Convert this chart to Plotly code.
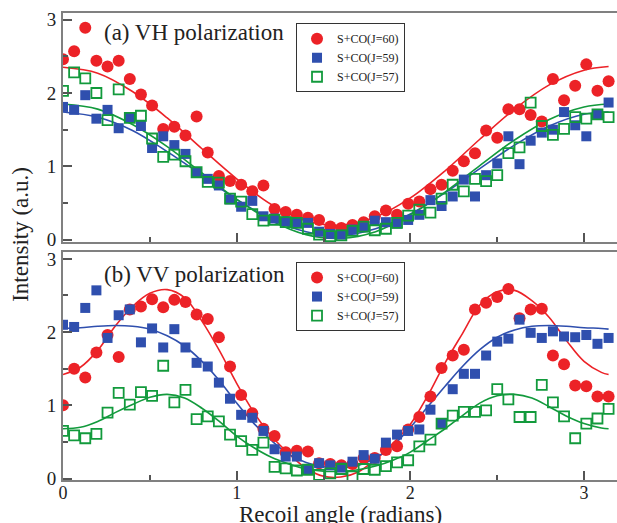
import numpy as np
import plotly.graph_objects as go

# ---------------- data ----------------
angle = np.linspace(0, np.pi, 50)  # recoil angle grid (radians)

vh_j60 = [2.46, 2.57, 2.89, 2.44, 2.36, 2.44, 2.19, 1.98, 1.83, 1.51,
          1.54, 1.42, 1.68, 1.19, 0.87, 0.80, 0.75, 0.66, 0.74, 0.42,
          0.38, 0.34, 0.30, 0.27, 0.18, 0.16, 0.20, 0.24, 0.32, 0.40,
          0.34, 0.49, 0.52, 0.69, 0.75, 0.94, 1.07, 1.18, 1.49, 1.39,
          1.78, 1.78, 1.70, 1.61, 2.19, 1.90, 2.10, 2.39, 2.03, 2.16]
vh_j59 = [1.81, 1.77, 1.97, 1.65, 1.77, 1.52, 1.66, 1.55, 1.25, 1.41,
          1.29, 1.17, 0.92, 0.83, 0.74, 0.55, 0.45, 0.53, 0.32, 0.29,
          0.25, 0.23, 0.23, 0.11, 0.08, 0.07, 0.14, 0.17, 0.26, 0.24,
          0.22, 0.27, 0.34, 0.54, 0.46, 0.59, 0.82, 0.59, 0.88, 1.04,
          1.41, 1.03, 1.35, 1.46, 1.50, 1.74, 1.56, 1.41, 1.71, 1.87]
vh_j57 = [2.03, 2.28, 2.20, 2.00, 1.63, 2.05, 1.66, 1.69, 1.38, 1.13,
          1.16, 1.07, 0.92, 0.79, 0.78, 0.56, 0.52, 0.35, 0.26, 0.27,
          0.24, 0.23, 0.15, 0.07, 0.05, 0.06, 0.12, 0.18, 0.13, 0.15,
          0.23, 0.33, 0.41, 0.37, 0.56, 0.75, 0.66, 0.83, 0.80, 0.88,
          1.18, 1.26, 1.87, 1.55, 1.43, 1.51, 1.67, 1.65, 1.71, 1.67]

vv_j60 = [1.00, 1.50, 1.38, 1.72, 1.96, 1.66, 2.31, 2.35, 2.45, 2.34,
          2.44, 2.41, 2.24, 2.18, 1.93, 1.53, 1.14, 0.89, 0.68, 0.58,
          0.36, 0.38, 0.37, 0.21, 0.20, 0.18, 0.20, 0.28, 0.28, 0.39,
          0.44, 0.67, 0.84, 1.12, 1.51, 1.68, 1.76, 2.31, 2.40, 2.48,
          2.59, 2.19, 2.31, 2.32, 1.68, 1.56, 1.27, 1.26, 1.12, 1.12]
vv_j59 = [2.10, 2.07, 2.33, 2.57, 1.92, 2.23, 2.31, 1.86, 2.05, 1.79,
          2.04, 1.79, 1.58, 1.53, 1.31, 1.09, 0.87, 0.83, 0.65, 0.40,
          0.30, 0.30, 0.13, 0.21, 0.18, 0.15, 0.23, 0.32, 0.27, 0.49,
          0.60, 0.65, 0.67, 0.94, 0.75, 1.22, 1.43, 1.43, 1.68, 1.87,
          1.91, 2.17, 1.99, 1.92, 2.01, 1.94, 1.93, 1.96, 1.84, 1.92]
vv_j57 = [0.65, 0.59, 0.55, 0.61, 0.90, 1.17, 1.01, 1.18, 1.13, 1.54,
          1.04, 1.21, 0.81, 0.85, 0.78, 0.60, 0.51, 0.39, 0.49, 0.16,
          0.14, 0.11, 0.12, 0.05, 0.07, 0.13, 0.03, 0.13, 0.12, 0.17,
          0.22, 0.25, 0.44, 0.53, 0.75, 0.86, 0.91, 0.91, 0.93, 1.22,
          1.08, 0.84, 0.84, 1.28, 1.04, 0.85, 0.55, 0.75, 0.82, 0.95]

# fitted curves
fit_x_a = [0.0, 0.2, 0.4, 0.6, 0.8, 1.0, 1.2, 1.4, 1.6, 1.8, 2.0, 2.2,
           2.4, 2.6, 2.8, 3.0, 3.1416]
fit_vh_j60 = [2.35, 2.27, 2.02, 1.66, 1.24, 0.83, 0.48, 0.26, 0.20, 0.31,
              0.57, 0.94, 1.37, 1.78, 2.11, 2.31, 2.36]
fit_vh_j59 = [1.74, 1.67, 1.49, 1.20, 0.88, 0.55, 0.28, 0.11, 0.06, 0.15,
              0.35, 0.64, 0.97, 1.29, 1.55, 1.71, 1.74]
fit_vh_j57 = [1.85, 1.78, 1.57, 1.27, 0.91, 0.55, 0.26, 0.07, 0.02, 0.11,
              0.34, 0.65, 1.01, 1.36, 1.64, 1.81, 1.85]

fit_x_b = [0.0, 0.1, 0.2, 0.3, 0.4, 0.5, 0.6, 0.7, 0.8, 0.9, 1.0, 1.1,
           1.2, 1.3, 1.4, 1.5, 1.6, 1.7, 1.8, 1.9, 2.0, 2.1, 2.2, 2.3,
           2.4, 2.5, 2.6, 2.7, 2.8, 2.9, 3.0, 3.1, 3.1416]
fit_vv_j60 = [1.42, 1.52, 1.75, 2.08, 2.35, 2.53, 2.58, 2.47, 2.15, 1.75,
              1.30, 0.90, 0.58, 0.34, 0.14, 0.03, 0.02, 0.09, 0.26, 0.48,
              0.74, 1.13, 1.58, 1.98, 2.37, 2.55, 2.57, 2.43, 2.20, 1.88,
              1.60, 1.45, 1.42]
fit_vv_j59 = [2.05, 2.06, 2.08, 2.09, 2.08, 2.04, 1.95, 1.81, 1.60, 1.34,
              1.03, 0.75, 0.52, 0.33, 0.22, 0.16, 0.15, 0.18, 0.28, 0.45,
              0.70, 0.98, 1.26, 1.53, 1.76, 1.93, 2.03, 2.08, 2.09, 2.08,
              2.06, 2.05, 2.04]
fit_vv_j57 = [0.68, 0.70, 0.78, 0.90, 1.01, 1.11, 1.15, 1.10, 0.96, 0.78,
              0.58, 0.42, 0.29, 0.20, 0.13, 0.10, 0.10, 0.12, 0.17, 0.25,
              0.36, 0.52, 0.68, 0.86, 1.03, 1.13, 1.15, 1.10, 0.98, 0.85,
              0.75, 0.69, 0.68]

series_names = ["S+CO(J=60)", "S+CO(J=59)", "S+CO(J=57)"]
panel_titles = ["(a) VH polarization", "(b) VV polarization"]
tick_vals = [0, 1, 2, 3]
tick_text = ["0", "1", "2", "3"]

# ---------------- style ----------------
RED = "#ec2227"
BLUE = "#2f4fae"
GREEN = "#129a3c"
FONT = "Liberation Serif"
AX = "#808080"
TK = "#555555"

fig = go.Figure()

panels = [
    ("x", "y", "legend", fit_x_a, [fit_vh_j60, fit_vh_j59, fit_vh_j57],
     [vh_j60, vh_j59, vh_j57]),
    ("x2", "y2", "legend2", fit_x_b, [fit_vv_j60, fit_vv_j59, fit_vv_j57],
     [vv_j60, vv_j59, vv_j57]),
]
colors = [RED, BLUE, GREEN]
markers = [
    dict(symbol="circle", size=12, color=RED, line=dict(width=0)),
    dict(symbol="square", size=10, color=BLUE, line=dict(width=0)),
    dict(symbol="square-open", size=10, color=GREEN, line=dict(width=1.8, color=GREEN)),
]

for xa, ya, lg, fx, fits, pts in panels:
    for fy, c in zip(fits, colors):
        fig.add_trace(go.Scatter(x=fx, y=fy, mode="lines", xaxis=xa, yaxis=ya,
                                 line=dict(color=c, width=1.6, shape="spline"),
                                 showlegend=False, hoverinfo="skip"))
    for name, py, mk in zip(series_names, pts, markers):
        fig.add_trace(go.Scatter(x=angle, y=py, mode="markers", name=name,
                                 xaxis=xa, yaxis=ya, marker=mk, legend=lg))

common_axis = dict(showline=True, linecolor=AX, linewidth=2, showgrid=False,
                   zeroline=False, ticks="inside", ticklen=9, tickwidth=1.5,
                   tickcolor=TK, automargin=False,
                   minor=dict(ticks="inside", ticklen=5, tickwidth=1.5,
                              tickcolor=TK, dtick=0.5),
                   tickfont=dict(family=FONT, size=19, color="#222"))

legend_style = dict(xanchor="left", yanchor="top", bordercolor="#333",
                    borderwidth=1, bgcolor="white",
                    font=dict(family=FONT, size=12, color="#222"),
                    tracegroupgap=0)

fig.update_layout(
    width=617, height=523,
    margin=dict(l=63, r=0, t=13, b=42.5, autoexpand=False),
    paper_bgcolor="white", plot_bgcolor="white",
    font=dict(family=FONT, color="#222"),
    xaxis=dict(common_axis, domain=[0, 1], range=[0, 3.19], anchor="y",
               tickvals=tick_vals, showticklabels=False, mirror=True),
    yaxis=dict(common_axis, domain=[0.5097, 1], range=[-0.03, 3.09],
               anchor="x", tickvals=tick_vals, ticktext=tick_text,
               ticklabelstandoff=1),
    xaxis2=dict(common_axis, domain=[0, 1], range=[0, 3.19], anchor="y2",
                tickvals=tick_vals, ticktext=tick_text, mirror=True,
                ticklabelstandoff=-5,
                tickfont=dict(family=FONT, size=18, color="#222")),
    yaxis2=dict(common_axis, domain=[0, 0.4892], range=[-0.02, 3.10],
                anchor="x2", tickvals=tick_vals, ticktext=tick_text,
                ticklabelstandoff=1),
    legend=dict(legend_style, x=0.4206, y=0.978),
    legend2=dict(legend_style, x=0.4206, y=0.4667),
    annotations=[
        dict(text=panel_titles[0], x=0.2245, y=2.82, xref="x", yref="y",
             xanchor="left", yanchor="middle", showarrow=False,
             font=dict(family=FONT, size=23, color="#222")),
        dict(text=panel_titles[1], x=0.2245, y=2.78, xref="x2", yref="y2",
             xanchor="left", yanchor="middle", showarrow=False,
             font=dict(family=FONT, size=23, color="#222")),
        dict(text="Recoil angle (radians)", x=0.5, y=-0.0745, xref="paper",
             yref="paper", xanchor="center", yanchor="middle",
             showarrow=False, font=dict(family=FONT, size=23, color="#222")),
        dict(text="Intensity (a.u.)", x=-0.0758, y=0.525, xref="paper",
             yref="paper", xanchor="center", yanchor="middle",
             textangle=-90, showarrow=False,
             font=dict(family=FONT, size=23, color="#222")),
    ],
)

fig.write_html(
    "out.html",
    config={"displayModeBar": False},
    post_script="document.body.style.margin='0';document.body.style.padding='0';"
                "document.body.style.overflow='hidden';",
)
